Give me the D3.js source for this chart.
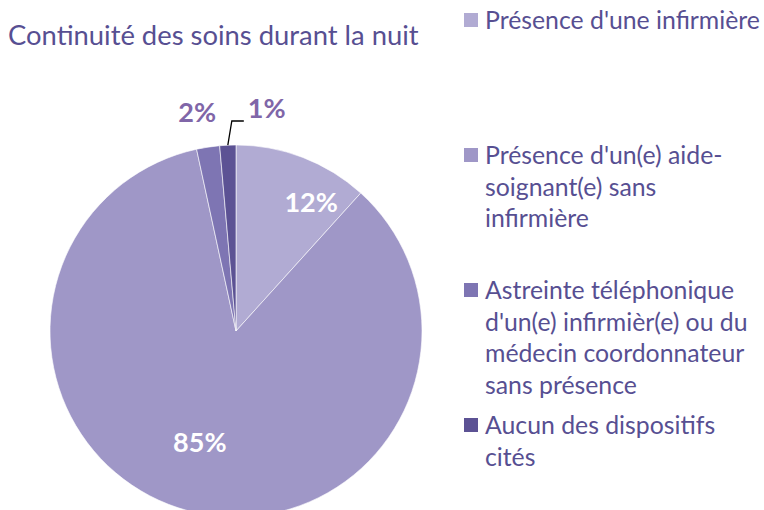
<!DOCTYPE html>
<html>
<head>
<meta charset="utf-8">
<script src="https://cdnjs.cloudflare.com/ajax/libs/d3/7.8.5/d3.min.js"></script>
<style>
  body { margin: 0; background: #fff; }
  text { font-family: Lato, "Open Sans", sans-serif; }
</style>
</head>
<body>
<div id="chart"></div>
<script>
// Data
var categories = [
  "Présence d'une infirmière",
  "Présence d'un(e) aide-soignant(e) sans infirmière",
  "Astreinte téléphonique d'un(e) infirmièr(e) ou du médecin coordonnateur sans présence",
  "Aucun des dispositifs cités"
];
var values = [11.7, 84.9, 2.0, 1.4];
var valueLabels = ["12%", "85%", "2%", "1%"];
// legend text broken in lines as in the picture
var legendLines = [
  ["Présence d'une infirmière"],
  ["Présence d'un(e) aide-", "soignant(e) sans", "infirmière"],
  ["Astreinte téléphonique", "d'un(e) infirmièr(e) ou du", "médecin coordonnateur", "sans présence"],
  ["Aucun des dispositifs", "cités"]
];
var colors = ["#b1abd3", "#9f97c7", "#7e75b3", "#5c5294"];
var textColor = "#574f92";

var width = 764, height = 510;
var cx = 236, cy = 331, radius = 186;

var svg = d3.select("#chart").append("svg")
    .attr("width", width)
    .attr("height", height);

// Title
svg.append("text")
    .attr("x", 8)
    .attr("y", 45)
    .style("font-size", "27.4px")
    .style("fill", textColor)
    .text("Continuité des soins durant la nuit");

var pie = d3.pie().sort(null).value(function(d) { return d; });
var arc = d3.arc().innerRadius(0).outerRadius(radius);
var arcs = pie(values);

var g = svg.append("g").attr("transform", "translate(" + cx + "," + cy + ")");

g.selectAll("path.slice")
    .data(arcs)
    .enter().append("path")
    .attr("class", "slice")
    .attr("d", arc)
    .attr("fill", function(d, i) { return colors[i]; })
    .attr("stroke", "#fff")
    .attr("stroke-width", 0.6);

// labels inside the two big slices (angle share and radius share, like Excel placed them)
var inPlace = [[0.72, 0.80], [0.51, 0.63]];
g.selectAll("text.inlabel")
    .data(arcs.slice(0, 2))
    .enter().append("text")
    .attr("class", "inlabel")
    .attr("transform", function(d, i) {
        var a = d.startAngle + inPlace[i][0] * (d.endAngle - d.startAngle);
        return "translate(" + d3.pointRadial(a, radius * inPlace[i][1]) + ")";
    })
    .attr("text-anchor", "middle")
    .attr("dy", "0.36em")
    .style("font-size", "27px")
    .style("font-weight", "bold")
    .style("fill", "#fff")
    .text(function(d, i) { return valueLabels[i]; });

// labels outside the two small slices
var outArc = d3.arc().innerRadius(radius * 1.14).outerRadius(radius * 1.14);
var small = arcs.slice(2);
var smallPos = [
  function(d) { var c = outArc.centroid(d); return [c[0] - 7, c[1] - 9]; },
  function(d) { var c = outArc.centroid(d); return [c[0] + 40, c[1] - 11]; }
];
g.selectAll("text.outlabel")
    .data(small)
    .enter().append("text")
    .attr("class", "outlabel")
    .attr("transform", function(d, i) { return "translate(" + smallPos[i](d) + ")"; })
    .attr("text-anchor", "middle")
    .attr("dy", "0.36em")
    .style("font-size", "27px")
    .style("font-weight", "bold")
    .style("fill", "#8066a8")
    .text(function(d, i) { return valueLabels[i + 2]; });

// leader line for the 1% slice
var d1 = arcs[3];
var p0 = d3.arc().innerRadius(radius).outerRadius(radius).centroid(d1);
var p1 = [p0[0] + 4, -radius - 24];
var p2 = [p1[0] + 12, p1[1]];
g.append("path")
    .attr("d", d3.line()([p0, p1, p2]))
    .attr("fill", "none")
    .attr("stroke", "#000")
    .attr("stroke-width", 1.3);

// Legend
var legendX = 464;
var legendTop = [29, 164, 299, 434];
var lineH = 31.6;
var lg = svg.append("g");
legendLines.forEach(function(lines, i) {
    lg.append("rect")
        .attr("x", legendX)
        .attr("y", legendTop[i] - 16)
        .attr("width", 14)
        .attr("height", 14)
        .attr("fill", colors[i]);
    var t = lg.append("text")
        .attr("x", legendX + 21)
        .attr("y", legendTop[i])
        .style("font-size", "24.8px")
        .style("fill", textColor);
    lines.forEach(function(l, j) {
        t.append("tspan")
            .attr("x", legendX + 21)
            .attr("dy", j === 0 ? 0 : lineH)
            .text(l);
    });
});
</script>
</body>
</html>
